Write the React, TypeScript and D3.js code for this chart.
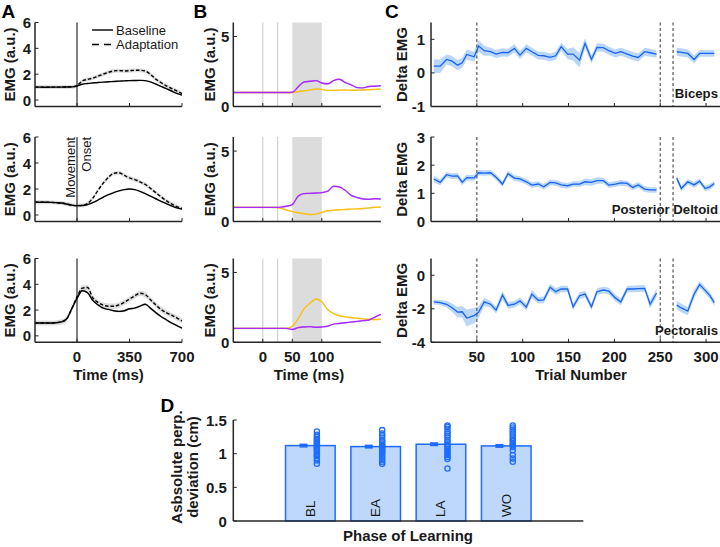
import React from 'react';
import * as d3 from 'd3';

const FONT = '"Liberation Sans", Arial, Helvetica, sans-serif';
const AXC = '#262626';
const TXT = '#1a1a1a';

// ---------------- Panel A data (EMG traces, a.u.) ----------------
const timeA = [-280, -245, -210, -175, -140, -105, -70, -35, 0, 35, 70, 105, 140, 175, 210, 245, 280, 315, 350, 385, 420, 455, 490, 525, 560, 595, 630, 665, 700];
const bicepsBaseA = [1.0, 1.0, 0.99, 1.0, 1.0, 1.0, 1.01, 1.02, 1.08, 1.22, 1.28, 1.32, 1.36, 1.39, 1.41, 1.44, 1.46, 1.48, 1.5, 1.51, 1.52, 1.5, 1.4, 1.24, 1.06, 0.88, 0.7, 0.52, 0.38];
const bicepsAdaptA = [1.0, 1.0, 0.99, 1.0, 1.0, 1.0, 1.01, 1.02, 1.12, 1.48, 1.6, 1.7, 1.85, 2.0, 2.15, 2.25, 2.28, 2.25, 2.27, 2.3, 2.3, 2.25, 1.98, 1.62, 1.35, 1.1, 0.9, 0.7, 0.5];
const deltBaseA = [1.0, 0.98, 0.98, 0.97, 0.95, 0.92, 0.85, 0.76, 0.72, 0.73, 0.8, 0.95, 1.15, 1.38, 1.56, 1.72, 1.85, 1.95, 2.0, 1.95, 1.82, 1.65, 1.45, 1.25, 1.05, 0.88, 0.7, 0.55, 0.45];
const deltAdaptA = [1.0, 0.98, 0.98, 0.97, 0.95, 0.92, 0.85, 0.76, 0.72, 0.74, 0.88, 1.3, 1.9, 2.45, 2.9, 3.2, 3.25, 3.05, 2.85, 2.72, 2.55, 2.35, 2.05, 1.72, 1.4, 1.1, 0.85, 0.65, 0.5];
const pecBaseA = [1.0, 1.0, 1.0, 1.0, 1.02, 1.08, 1.3, 2.1, 2.9, 3.5, 3.35, 2.75, 2.4, 2.15, 2.05, 1.95, 1.9, 1.95, 2.1, 2.15, 2.3, 2.45, 2.15, 1.8, 1.5, 1.25, 1.0, 0.8, 0.6];
const pecAdaptA = [1.0, 1.0, 1.0, 1.0, 1.02, 1.08, 1.3, 2.1, 3.0, 3.7, 3.75, 2.95, 2.6, 2.38, 2.3, 2.3, 2.4, 2.6, 2.85, 3.1, 3.3, 3.2, 2.8, 2.4, 2.05, 1.8, 1.6, 1.4, 1.15];
const semBaseA = [0.05, 0.06, 0.08];
const semAdaptA = [0.15, 0.15, 0.2];
const xTicksA = [0, 350, 700];
const yTicksA = [0, 2, 4, 6];

// ---------------- Panel B data ----------------
const timeB = [-50, -40, -30, -20, -10, 0, 10, 20, 30, 40, 50, 60, 70, 80, 90, 100, 110, 120, 130, 140, 150, 160, 170, 180, 190, 200];
const bicPurpleB = [1.0, 1.0, 1.0, 1.0, 1.0, 1.0, 1.0, 1.0, 1.0, 1.0, 1.02, 1.4, 1.75, 1.8, 1.85, 1.68, 1.62, 1.85, 1.95, 1.7, 1.55, 1.35, 1.33, 1.43, 1.45, 1.48];
const bicYellowB = [1.0, 1.0, 1.0, 1.0, 1.0, 1.0, 1.0, 1.0, 1.0, 1.0, 1.0, 1.05, 1.12, 1.18, 1.25, 1.22, 1.15, 1.15, 1.17, 1.18, 1.16, 1.17, 1.18, 1.2, 1.22, 1.24];
const deltPurpleB = [1.0, 1.0, 1.0, 1.0, 1.0, 1.0, 1.0, 1.0, 1.02, 1.08, 1.2, 1.8, 1.98, 2.0, 2.02, 2.05, 2.15, 2.5, 2.45, 2.2, 1.85, 1.7, 1.6, 1.58, 1.62, 1.6];
const deltYellowB = [1.0, 1.0, 1.0, 1.0, 1.0, 1.0, 1.0, 1.0, 0.95, 0.82, 0.7, 0.62, 0.55, 0.5, 0.52, 0.65, 0.76, 0.8, 0.83, 0.85, 0.88, 0.9, 0.92, 0.97, 1.0, 1.03];
const pecPurpleB = [1.0, 1.0, 1.0, 1.0, 1.0, 1.0, 1.0, 1.0, 1.0, 1.0, 0.92, 1.05, 1.1, 1.12, 1.08, 1.1, 1.15, 1.3, 1.35, 1.4, 1.45, 1.5, 1.55, 1.6, 1.8, 2.0];
const pecYellowB = [1.0, 1.0, 1.0, 1.0, 1.0, 1.0, 1.0, 1.0, 1.0, 1.0, 1.15, 1.7, 2.4, 2.8, 3.1, 2.9, 2.35, 2.05, 1.9, 1.82, 1.78, 1.72, 1.68, 1.65, 1.62, 1.65];
const xTicksB = [0, 50, 100];
const yTicksB = [0, 5];
const markerLinesB = [0, 25];
const windowB = [50, 100];

// ---------------- Panel C data ----------------
const trialsC = [3, 10, 17, 23, 29, 34, 39, 47, 52, 58, 65, 71, 78, 84, 91, 97, 104, 110, 117, 123, 130, 136, 142, 149, 155, 162, 168, 175, 181, 188, 194, 201, 207, 214, 220, 226, 233, 239, 246, 268, 273, 280, 287, 293, 299, 304, 309];
const washoutStart = 39;
const bicepsC = [0.2, 0.2, 0.4, 0.35, 0.23, 0.3, 0.55, 0.48, 0.8, 0.66, 0.63, 0.56, 0.61, 0.6, 0.73, 0.53, 0.73, 0.63, 0.52, 0.51, 0.46, 0.51, 0.78, 0.56, 0.56, 0.38, 0.88, 0.4, 0.76, 0.75, 0.66, 0.58, 0.63, 0.56, 0.5, 0.46, 0.63, 0.6, 0.56, 0.63, 0.61, 0.58, 0.4, 0.58, 0.58, 0.58, 0.58];
const bicepsErrC = [0.2, 0.2, 0.15, 0.15, 0.15, 0.15, 0.15, 0.15, 0.18, 0.15, 0.12, 0.12, 0.12, 0.12, 0.12, 0.12, 0.12, 0.12, 0.12, 0.12, 0.12, 0.12, 0.12, 0.15, 0.2, 0.22, 0.15, 0.12, 0.12, 0.12, 0.12, 0.12, 0.12, 0.12, 0.12, 0.12, 0.12, 0.12, 0.1, 0.12, 0.12, 0.12, 0.12, 0.1, 0.1, 0.1, 0.1];
const deltC = [1.51, 1.39, 1.66, 1.61, 1.62, 1.39, 1.56, 1.55, 1.73, 1.72, 1.73, 1.57, 1.33, 1.7, 1.54, 1.51, 1.41, 1.29, 1.33, 1.23, 1.39, 1.37, 1.3, 1.27, 1.33, 1.33, 1.41, 1.39, 1.45, 1.45, 1.29, 1.33, 1.37, 1.35, 1.21, 1.3, 1.15, 1.12, 1.12, 1.54, 1.17, 1.41, 1.3, 1.43, 1.17, 1.23, 1.35];
const deltErrC = [0.12, 0.1, 0.1, 0.1, 0.1, 0.1, 0.1, 0.1, 0.1, 0.1, 0.1, 0.1, 0.1, 0.1, 0.1, 0.1, 0.1, 0.1, 0.1, 0.1, 0.1, 0.1, 0.1, 0.1, 0.1, 0.1, 0.12, 0.12, 0.12, 0.1, 0.1, 0.1, 0.1, 0.1, 0.1, 0.1, 0.1, 0.1, 0.1, 0.1, 0.1, 0.1, 0.1, 0.1, 0.1, 0.1, 0.1];
const pecC = [-1.59, -1.63, -1.73, -1.94, -2.2, -2.18, -2.55, -2.41, -2.2, -1.59, -1.73, -2.08, -1.18, -1.8, -1.73, -1.53, -1.9, -1.12, -1.49, -1.47, -0.71, -0.98, -0.82, -0.82, -1.88, -1.22, -1.12, -1.88, -0.98, -0.88, -0.95, -1.35, -1.59, -0.82, -0.82, -0.8, -0.78, -1.73, -1.06, -1.78, -1.95, -2.14, -1.12, -0.55, -0.9, -1.2, -1.63];
const pecErrC = [0.15, 0.15, 0.2, 0.25, 0.3, 0.35, 0.5, 0.45, 0.35, 0.25, 0.2, 0.2, 0.25, 0.2, 0.2, 0.2, 0.2, 0.25, 0.2, 0.2, 0.2, 0.2, 0.2, 0.2, 0.2, 0.2, 0.2, 0.2, 0.2, 0.2, 0.2, 0.2, 0.2, 0.2, 0.2, 0.2, 0.2, 0.25, 0.25, 0.25, 0.25, 0.25, 0.25, 0.2, 0.2, 0.2, 0.2];
const yDomainsC: [number, number][] = [[-1, 1.5], [0, 3], [-4, 1]];
const yTicksC = [[-1, 0, 1], [0, 1, 2, 3], [-4, -2, 0]];
const xTicksC = [50, 100, 150, 200, 250, 300];
const phaseBoundsC = [50, 250, 264];
const muscleNames = ['Biceps', 'Posterior Deltoid', 'Pectoralis'];

// ---------------- Panel D data ----------------
const phases = ['BL', 'EA', 'LA', 'WO'];
const phaseMeans = [1.12, 1.105, 1.14, 1.115];
const phaseSem = [0.015, 0.015, 0.015, 0.015];
const phasePoints = [
  [1.33, 1.28, 1.25, 1.22, 1.2, 1.18, 1.16, 1.14, 1.12, 1.1, 1.09, 1.07, 1.05, 1.03, 1.0, 0.98, 0.96, 0.93, 0.9, 0.85],
  [1.35, 1.3, 1.27, 1.24, 1.2, 1.18, 1.15, 1.13, 1.11, 1.1, 1.08, 1.06, 1.04, 1.02, 1.0, 0.97, 0.94, 0.91, 0.88, 0.85],
  [1.42, 1.4, 1.37, 1.33, 1.3, 1.27, 1.24, 1.2, 1.17, 1.14, 1.12, 1.1, 1.07, 1.04, 1.01, 0.98, 0.95, 0.92, 0.78],
  [1.42, 1.39, 1.36, 1.33, 1.3, 1.27, 1.24, 1.21, 1.19, 1.16, 1.14, 1.12, 1.1, 1.05, 0.98, 0.93, 0.88],
];
const yTicksD = [0, 0.5, 1, 1.5];

// ---------------- layout ----------------
const ROWS = [
  { top: 22.5, bottom: 106.5 },
  { top: 137, bottom: 221.5 },
  { top: 258.5, bottom: 342.3 },
];

const PURPLE = '#a72cf7';
const YELLOW = '#f7c11a';
const BLUE = '#1865f2';
const BLUE_FILL = '#b3d1f7';
const DBLUE = '#1e6cff';
const DFILL = '#bdd8fb';

type Sc = d3.ScaleLinear<number, number>;

function Axes({ xs, ys, xTicks, yTicks, xLabels, yGap, fmt }: { xs: Sc; ys: Sc; xTicks: number[]; yTicks: number[]; xLabels?: boolean; yGap: number; fmt?: (v: number) => string }) {
  const [xl, xr] = xs.range();
  const [yb, yt] = ys.range();
  const f = fmt || ((v: number) => String(v));
  return (
    <g>
      <line x1={xl} x2={xl} y1={yt} y2={yb} stroke={AXC} strokeWidth={1.5} />
      <line x1={xl} x2={xr} y1={yb} y2={yb} stroke={AXC} strokeWidth={1.5} />
      {yTicks.map((t) => (
        <g key={'y' + t}>
          <line x1={xl} x2={xl + 3.5} y1={ys(t)} y2={ys(t)} stroke={AXC} strokeWidth={1} />
          <text x={xl - yGap} y={ys(t)} textAnchor="end" dominantBaseline="central" fontSize={15} fontWeight="bold" fill={TXT}>{f(t)}</text>
        </g>
      ))}
      {xTicks.map((t) => (
        <line key={'x' + t} x1={xs(t)} x2={xs(t)} y1={yb} y2={yb - 3.5} stroke={AXC} strokeWidth={1} />
      ))}
      {xLabels && xTicks.map((t) => (
        <text key={'xl' + t} x={xs(t)} y={361.5} textAnchor="middle" fontSize={15} fontWeight="bold" fill={TXT}>{f(t)}</text>
      ))}
    </g>
  );
}

function YLabel({ x, y, text }: { x: number; y: number; text: string }) {
  return (
    <text transform={`translate(${x},${y}) rotate(-90)`} textAnchor="middle" dominantBaseline="central" fontSize={15} fontWeight="bold" fill={TXT}>{text}</text>
  );
}

function PanelA() {
  const x = d3.scaleLinear().domain([-280, 700]).range([35, 182]);
  const sets = [[bicepsBaseA, bicepsAdaptA], [deltBaseA, deltAdaptA], [pecBaseA, pecAdaptA]];
  return (
    <g>
      {ROWS.map((r, i) => {
        const y = d3.scaleLinear().domain([-0.5, 6]).range([r.bottom, r.top]);
        const [base, adapt] = sets[i];
        const line = d3.line<number>().x((_, k) => x(timeA[k])).y((d) => y(d)).curve(d3.curveMonotoneX);
        const band = (sem: number) => d3.area<number>().x((_, k) => x(timeA[k])).y0((d) => y(d - sem)).y1((d) => y(d + sem)).curve(d3.curveMonotoneX);
        return (
          <g key={i}>
            <path d={band(semAdaptA[i])(adapt) || ''} fill="#c4c4c4" opacity={0.6} />
            <path d={band(semBaseA[i])(base) || ''} fill="#c4c4c4" opacity={0.6} />
            <path d={line(base) || ''} fill="none" stroke="#000" strokeWidth={1.4} />
            <path d={line(adapt) || ''} fill="none" stroke="#000" strokeWidth={1.4} strokeDasharray="3.5,2" />
            <line x1={x(0)} x2={x(0)} y1={r.top} y2={r.bottom} stroke="#000" strokeWidth={1} />
            <Axes xs={x} ys={y} xTicks={xTicksA} yTicks={yTicksA} xLabels={i === 2} yGap={4} />
            <YLabel x={9} y={(r.top + r.bottom) / 2} text="EMG (a.u.)" />
            {i === 0 && (
              <g fontSize={13} fill={TXT}>
                <line x1={92} x2={113} y1={30} y2={30} stroke="#000" strokeWidth={1.4} />
                <line x1={92} x2={113} y1={44.5} y2={44.5} stroke="#000" strokeWidth={1.4} strokeDasharray="7,5" />
                <text x={116} y={34.5}>Baseline</text>
                <text x={116} y={49}>Adaptation</text>
              </g>
            )}
            {i === 1 && (
              <g fontSize={13} fill={TXT}>
                <text transform={`translate(70,${r.top}) rotate(-90)`} textAnchor="end" dominantBaseline="central">Movement</text>
                <text transform={`translate(86,${r.top}) rotate(-90)`} textAnchor="end" dominantBaseline="central">Onset</text>
              </g>
            )}
          </g>
        );
      })}
      <text x={108.5} y={380} textAnchor="middle" fontSize={15} fontWeight="bold" fill={TXT}>Time (ms)</text>
    </g>
  );
}

function PanelB() {
  const x = d3.scaleLinear().domain([-50, 200]).range([233.3, 380.8]);
  const sets = [[bicYellowB, bicPurpleB], [deltYellowB, deltPurpleB], [pecYellowB, pecPurpleB]];
  return (
    <g>
      {ROWS.map((r, i) => {
        const y = d3.scaleLinear().domain([0, 6]).range([r.bottom, r.top]);
        const [yel, pur] = sets[i];
        const line = d3.line<number>().x((_, k) => x(timeB[k])).y((d) => y(d)).curve(d3.curveMonotoneX);
        const band = d3.area<number>().x((_, k) => x(timeB[k])).y0((d) => y(d - 0.06)).y1((d) => y(d + 0.06)).curve(d3.curveMonotoneX);
        return (
          <g key={i}>
            <rect x={x(windowB[0])} y={r.top} width={x(windowB[1]) - x(windowB[0])} height={r.bottom - r.top} fill="#dcdcdc" />
            {markerLinesB.map((m) => (
              <line key={m} x1={x(m)} x2={x(m)} y1={r.top} y2={r.bottom} stroke="#d2d2d2" strokeWidth={1.2} />
            ))}
            <path d={band(yel) || ''} fill={YELLOW} opacity={0.25} />
            <path d={band(pur) || ''} fill={PURPLE} opacity={0.2} />
            <path d={line(yel) || ''} fill="none" stroke={YELLOW} strokeWidth={1.4} />
            <path d={line(pur) || ''} fill="none" stroke={PURPLE} strokeWidth={1.4} />
            <Axes xs={x} ys={y} xTicks={xTicksB} yTicks={yTicksB} xLabels={i === 2} yGap={4} />
            <YLabel x={209} y={(r.top + r.bottom) / 2} text="EMG (a.u.)" />
          </g>
        );
      })}
      <text x={309} y={380} textAnchor="middle" fontSize={15} fontWeight="bold" fill={TXT}>Time (ms)</text>
    </g>
  );
}

function PanelC() {
  const x = d3.scaleLinear().domain([0, 325]).range([431, 729]);
  const sets = [[bicepsC, bicepsErrC], [deltC, deltErrC], [pecC, pecErrC]];
  const labelY = [98, 214, 335];
  return (
    <g>
      {ROWS.map((r, i) => {
        const y = d3.scaleLinear().domain(yDomainsC[i]).range([r.bottom, r.top]);
        const [vals, errs] = sets[i];
        const idx = trialsC.map((_, k) => k);
        const segs = [idx.slice(0, washoutStart), idx.slice(washoutStart)];
        const line = d3.line<number>().x((k) => x(trialsC[k])).y((k) => y(vals[k]));
        const band = d3.area<number>().x((k) => x(trialsC[k])).y0((k) => y(vals[k] - errs[k])).y1((k) => y(vals[k] + errs[k]));
        return (
          <g key={i}>
            {segs.map((s, j) => (
              <path key={'b' + j} d={band(s) || ''} fill={BLUE_FILL} opacity={0.9} />
            ))}
            {segs.map((s, j) => (
              <path key={'l' + j} d={line(s) || ''} fill="none" stroke={BLUE} strokeWidth={1.3} />
            ))}
            {phaseBoundsC.map((b) => (
              <line key={b} x1={x(b)} x2={x(b)} y1={r.top} y2={r.bottom} stroke="#555" strokeWidth={1.2} strokeDasharray="3,2.5" />
            ))}
            <Axes xs={x} ys={y} xTicks={xTicksC} yTicks={yTicksC[i]} xLabels={i === 2} yGap={6} />
            <YLabel x={401} y={(r.top + r.bottom) / 2} text="Delta EMG" />
            <text x={718} y={labelY[i]} textAnchor="end" fontSize={13.2} fontWeight="bold" fill={TXT}>{muscleNames[i]}</text>
          </g>
        );
      })}
      <text x={581} y={380} textAnchor="middle" fontSize={15} fontWeight="bold" fill={TXT}>Trial Number</text>
    </g>
  );
}

function PanelD() {
  const x = d3.scaleLinear().domain([-0.18, 5.18]).range([233.3, 583.3]);
  const y = d3.scaleLinear().domain([0, 1.5]).range([521, 420]);
  const bw = 0.76;
  return (
    <g>
      {phases.map((p, i) => {
        const c = i + 1;
        const x0 = x(c - bw / 2);
        const x1 = x(c + bw / 2);
        const ec = x(c - 0.105);
        const dc = x(c + 0.1);
        const yTop = y(phaseMeans[i] + phaseSem[i]);
        const yBot = y(phaseMeans[i] - phaseSem[i]);
        return (
          <g key={p}>
            <rect x={x0} y={y(phaseMeans[i])} width={x1 - x0} height={y(0) - y(phaseMeans[i])} fill={DFILL} stroke={DBLUE} strokeWidth={1.5} />
            <rect x={ec - 4} y={Math.min(yTop, y(phaseMeans[i]) - 2)} width={8} height={Math.max(yBot - yTop, 4)} fill={DBLUE} />
            {phasePoints[i].map((v, k) => (
              <circle key={k} cx={dc} cy={y(v)} r={2.6} fill="none" stroke={DBLUE} strokeWidth={1.3} />
            ))}
            <text transform={`translate(${x(c)},517) rotate(-90)`} textAnchor="start" dominantBaseline="central" fontSize={13.5} fill={TXT}>{p}</text>
          </g>
        );
      })}
      <Axes xs={x} ys={y} xTicks={[]} yTicks={yTicksD} yGap={6.5} />
      <text transform="translate(176.5,467) rotate(-90)" textAnchor="middle" dominantBaseline="central" fontSize={15} fontWeight="bold" fill={TXT}>Asbsolute perp.</text>
      <text transform="translate(192,467) rotate(-90)" textAnchor="middle" dominantBaseline="central" fontSize={15} fontWeight="bold" fill={TXT}>deviation (cm)</text>
      <text x={408} y={541} textAnchor="middle" fontSize={15} fontWeight="bold" fill={TXT}>Phase of Learning</text>
    </g>
  );
}

export default function App() {
  return (
    <svg width={720} height={547} viewBox="0 0 720 547" style={{ position: 'absolute', left: 0, top: 0, background: '#fff' }} fontFamily={FONT}>
      <rect x={0} y={0} width={720} height={547} fill="#fff" />
      <PanelA />
      <PanelB />
      <PanelC />
      <PanelD />
      <g fontSize={19} fontWeight="bold" fill="#000">
        <text x={1.5} y={17.5}>A</text>
        <text x={193.5} y={17.5}>B</text>
        <text x={385} y={17.5}>C</text>
        <text x={160.5} y={412}>D</text>
      </g>
    </svg>
  );
}
